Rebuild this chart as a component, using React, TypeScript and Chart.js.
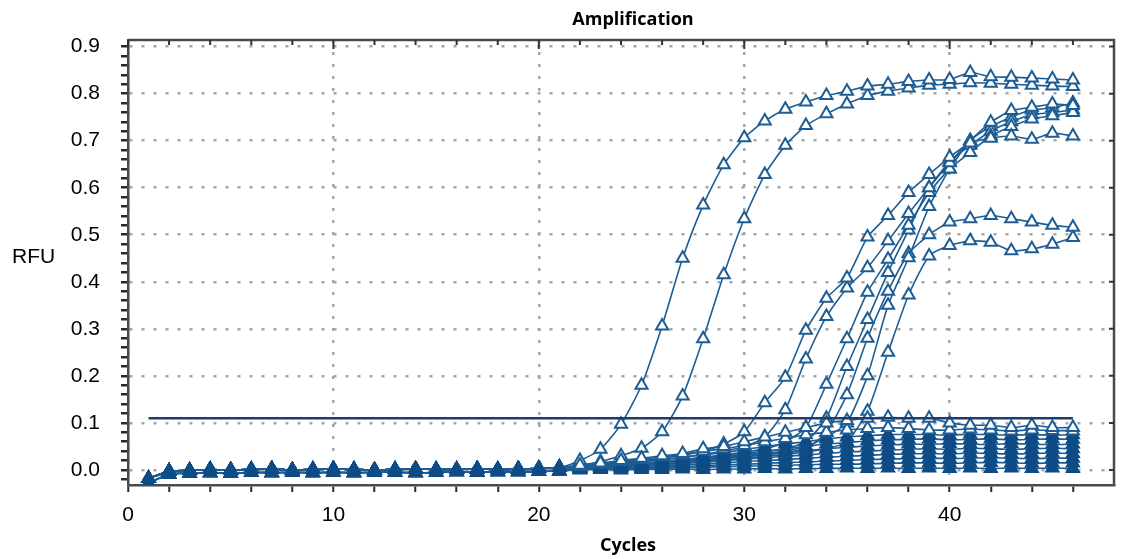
import React, { useEffect, useRef } from 'react';
import { Chart, registerables } from 'chart.js';

Chart.register(...registerables);

// ---- axis ticks ----
const xTickLabels = [0, 10, 20, 30, 40];
const xMinorTicks = [0, 2, 4, 6, 8, 10, 12, 14, 16, 18, 20, 22, 24, 26, 28, 30, 32, 34, 36, 38, 40, 42, 44, 46];
const yTickLabels = [0.0, 0.1, 0.2, 0.3, 0.4, 0.5, 0.6, 0.7, 0.8, 0.9];
const yMinorStep = 0.02;

// ---- cycles ----
const cycles = [1, 2, 3, 4, 5, 6, 7, 8, 9, 10, 11, 12, 13, 14, 15, 16, 17, 18, 19, 20, 21, 22, 23, 24, 25, 26, 27, 28, 29, 30, 31, 32, 33, 34, 35, 36, 37, 38, 39, 40, 41, 42, 43, 44, 45, 46];
const baselineCycles = 21;

// ---- threshold ----
const thresholdValue = 0.11;
const thresholdCycles = [1, 46];

// ---- baseline readings, cycles 1–21 ----
const baseA = [-0.018, -0.003, -0.001, 0.001, 0.0, 0.001, 0.002, 0.0, 0.001, 0.002, 0.001, 0.0, 0.001, 0.002, 0.001, 0.001, 0.002, 0.001, 0.002, 0.003, 0.005];
const baseB = [-0.028, -0.009, -0.007, -0.006, -0.007, -0.005, -0.006, -0.005, -0.006, -0.005, -0.006, -0.005, -0.005, -0.006, -0.005, -0.004, -0.005, -0.004, -0.004, -0.003, -0.002];

// ---- amplifying samples, cycles 22–46 ----
const sampleA = [0.02, 0.044, 0.097, 0.18, 0.306, 0.45, 0.563, 0.649, 0.706, 0.742, 0.767, 0.782, 0.796, 0.805, 0.816, 0.82, 0.826, 0.829, 0.83, 0.845, 0.836, 0.835, 0.833, 0.831, 0.829];
const sampleB = [0.01, 0.018, 0.03, 0.046, 0.081, 0.157, 0.279, 0.415, 0.534, 0.628, 0.69, 0.732, 0.757, 0.778, 0.796, 0.805, 0.812, 0.818, 0.82, 0.823, 0.822, 0.82, 0.818, 0.816, 0.815];
const sampleC = [0.008, 0.012, 0.016, 0.02, 0.025, 0.032, 0.04, 0.055, 0.081, 0.143, 0.197, 0.297, 0.365, 0.408, 0.495, 0.541, 0.59, 0.628, 0.665, 0.695, 0.705, 0.71, 0.703, 0.716, 0.71];
const sampleD = [0.006, 0.01, 0.014, 0.018, 0.022, 0.027, 0.033, 0.04, 0.05, 0.07, 0.128, 0.236, 0.326, 0.387, 0.43, 0.487, 0.545, 0.6, 0.653, 0.7, 0.739, 0.764, 0.771, 0.778, 0.775];
const sampleE = [0.005, 0.008, 0.011, 0.014, 0.018, 0.022, 0.027, 0.032, 0.038, 0.045, 0.06, 0.09, 0.182, 0.279, 0.378, 0.448, 0.52, 0.59, 0.64, 0.675, 0.71, 0.73, 0.746, 0.753, 0.76];
const sampleF = [0.005, 0.007, 0.01, 0.013, 0.016, 0.02, 0.024, 0.028, 0.033, 0.038, 0.045, 0.06, 0.11, 0.22, 0.32, 0.42, 0.51, 0.6, 0.655, 0.69, 0.72, 0.74, 0.755, 0.76, 0.765];
const sampleG = [0.004, 0.006, 0.009, 0.012, 0.015, 0.018, 0.022, 0.026, 0.03, 0.035, 0.04, 0.05, 0.07, 0.1, 0.2, 0.35, 0.451, 0.56, 0.64, 0.7, 0.73, 0.75, 0.765, 0.77, 0.78];
const sampleI = [0.004, 0.006, 0.008, 0.011, 0.014, 0.017, 0.02, 0.024, 0.028, 0.032, 0.037, 0.045, 0.08, 0.16, 0.28, 0.38, 0.46, 0.5, 0.527, 0.534, 0.541, 0.534, 0.527, 0.52, 0.516];
const sampleJ = [0.003, 0.005, 0.007, 0.009, 0.012, 0.015, 0.018, 0.021, 0.025, 0.029, 0.033, 0.038, 0.045, 0.06, 0.125, 0.25, 0.372, 0.455, 0.477, 0.487, 0.484, 0.466, 0.47, 0.48, 0.494];

// ---- non-amplifying samples, cycles 22–46 ----
const low1 = [0.01, 0.015, 0.02, 0.025, 0.03, 0.035, 0.045, 0.05, 0.06, 0.07, 0.08, 0.09, 0.1, 0.105, 0.11, 0.112, 0.11, 0.11, 0.1, 0.095, 0.095, 0.09, 0.095, 0.09, 0.09];
const low2 = [0.008, 0.012, 0.018, 0.022, 0.028, 0.032, 0.04, 0.045, 0.052, 0.06, 0.067, 0.075, 0.08, 0.085, 0.088, 0.09, 0.088, 0.085, 0.085, 0.087, 0.085, 0.083, 0.085, 0.084, 0.083];
const low3 = [0.006, 0.01, 0.014, 0.018, 0.022, 0.027, 0.032, 0.037, 0.043, 0.05, 0.055, 0.06, 0.066, 0.07, 0.073, 0.075, 0.076, 0.075, 0.074, 0.076, 0.075, 0.074, 0.075, 0.074, 0.075];
const low4 = [0.005, 0.008, 0.011, 0.015, 0.018, 0.022, 0.026, 0.03, 0.035, 0.04, 0.045, 0.05, 0.055, 0.058, 0.062, 0.064, 0.065, 0.066, 0.064, 0.065, 0.066, 0.064, 0.065, 0.066, 0.065];
const low5 = [0.004, 0.006, 0.009, 0.012, 0.015, 0.018, 0.021, 0.025, 0.029, 0.033, 0.037, 0.041, 0.045, 0.048, 0.051, 0.053, 0.055, 0.054, 0.056, 0.055, 0.054, 0.056, 0.055, 0.054, 0.055];
const low6 = [0.003, 0.005, 0.007, 0.009, 0.012, 0.014, 0.017, 0.02, 0.023, 0.026, 0.029, 0.032, 0.035, 0.038, 0.04, 0.042, 0.044, 0.045, 0.044, 0.046, 0.045, 0.044, 0.045, 0.046, 0.045];
const low7 = [0.002, 0.004, 0.005, 0.007, 0.009, 0.011, 0.013, 0.015, 0.018, 0.02, 0.022, 0.025, 0.027, 0.029, 0.031, 0.033, 0.034, 0.035, 0.034, 0.036, 0.035, 0.034, 0.035, 0.036, 0.035];
const low8 = [0.002, 0.003, 0.004, 0.005, 0.006, 0.008, 0.009, 0.011, 0.012, 0.014, 0.016, 0.017, 0.019, 0.02, 0.022, 0.023, 0.024, 0.025, 0.024, 0.025, 0.026, 0.025, 0.024, 0.025, 0.025];
const low9 = [0.001, 0.002, 0.002, 0.003, 0.004, 0.005, 0.006, 0.007, 0.008, 0.009, 0.01, 0.011, 0.012, 0.012, 0.013, 0.014, 0.015, 0.015, 0.014, 0.015, 0.016, 0.015, 0.014, 0.015, 0.015];
const low10 = [0.0, 0.001, 0.0, 0.001, 0.001, 0.002, 0.001, 0.002, 0.002, 0.003, 0.002, 0.003, 0.003, 0.004, 0.003, 0.004, 0.003, 0.004, 0.003, 0.004, 0.003, 0.004, 0.003, 0.004, 0.003];

const BLUE = '#1d5d94';
const DARK = '#0f4c86';
const NAVY = '#1e3a72';

const isMajorX = (v: number) => xTickLabels.some((t) => Math.abs(t - v) < 1e-6);
const isMajorY = (v: number) => yTickLabels.some((t) => Math.abs(t - v) < 1e-6);

function series(base: number[], tail: number[]) {
  const vals = [...base, ...tail];
  return cycles.map((c, i) => ({ x: c, y: vals[i] }));
}

function curve(base: number[], tail: number[], filled: boolean) {
  return {
    data: series(base, tail),
    borderColor: BLUE,
    borderWidth: 1.6,
    pointStyle: 'triangle',
    pointRadius: 7,
    pointBorderWidth: 2,
    pointBorderColor: (c: any) => (filled || c.dataIndex < baselineCycles ? DARK : BLUE),
    pointBackgroundColor: (c: any) => (filled || c.dataIndex < baselineCycles ? DARK : '#ffffff'),
    tension: 0.2,
    fill: false,
  };
}

const framePlugin = {
  id: 'frameAndText',
  afterDraw(chart: any) {
    const { ctx, chartArea } = chart;
    const { left, right, top, bottom } = chartArea;
    const xs = chart.scales.x;
    const ys = chart.scales.y;
    ctx.save();
    ctx.strokeStyle = '#4a4a4a';
    ctx.lineWidth = 2.5;
    ctx.beginPath();
    ctx.moveTo(left, top);
    ctx.lineTo(right, top);
    ctx.lineTo(right, bottom);
    ctx.stroke();
    ctx.lineWidth = 2;
    ctx.strokeStyle = '#333';
    ctx.beginPath();
    xMinorTicks.forEach((v) => {
      const px = xs.getPixelForValue(v);
      ctx.moveTo(px, top);
      ctx.lineTo(px, top + (isMajorX(v) ? 9 : 5));
    });
    yTickLabels.forEach((v) => {
      const py = ys.getPixelForValue(v);
      ctx.moveTo(right, py);
      ctx.lineTo(right - 5, py);
    });
    ctx.stroke();
    ctx.fillStyle = '#000';
    ctx.textAlign = 'center';
    ctx.textBaseline = 'middle';
    ctx.font = 'bold 18px "Open Sans"';
    ctx.fillText('Amplification', 633, 20);
    ctx.fillText('Cycles', 628, 546);
    ctx.textAlign = 'left';
    ctx.font = '21px "Liberation Sans"';
    ctx.fillText('RFU', 12, 257);
    ctx.restore();
  },
};

export default function App() {
  const ref = useRef<HTMLCanvasElement>(null);

  useEffect(() => {
    if (!ref.current) return;
    const datasets: any[] = [
      {
        data: thresholdCycles.map((c) => ({ x: c, y: thresholdValue })),
        borderColor: NAVY,
        borderWidth: 2.5,
        pointRadius: 0,
        fill: false,
      },
      curve(baseA, low1, false),
      curve(baseB, low2, false),
      curve(baseA, low3, true),
      curve(baseB, low4, true),
      curve(baseA, low5, true),
      curve(baseB, low6, true),
      curve(baseA, low7, true),
      curve(baseB, low8, true),
      curve(baseA, low9, true),
      curve(baseB, low10, true),
      curve(baseA, sampleA, false),
      curve(baseA, sampleB, false),
      curve(baseA, sampleC, false),
      curve(baseA, sampleD, false),
      curve(baseA, sampleE, false),
      curve(baseA, sampleF, false),
      curve(baseA, sampleG, false),
      curve(baseA, sampleI, false),
      curve(baseA, sampleJ, false),
    ];

    const chart = new Chart(ref.current, {
      type: 'line',
      data: { datasets },
      plugins: [framePlugin],
      options: {
        animation: false,
        responsive: false,
        devicePixelRatio: 1,
        layout: { padding: { top: 40, right: 3, left: 0, bottom: 0 } },
        plugins: {
          legend: { display: false },
          tooltip: { enabled: false },
          title: { display: false },
        },
        scales: {
          x: {
            type: 'linear',
            min: 0,
            max: 48,
            afterFit: (s: any) => {
              s.height = 74;
            },
            afterBuildTicks: (s: any) => {
              s.ticks = xMinorTicks.map((v) => ({ value: v }));
            },
            ticks: {
              autoSkip: false,
              maxRotation: 0,
              padding: 11,
              color: '#000',
              font: { family: 'Liberation Sans', size: 21 },
              callback: (v: any) => (isMajorX(Number(v)) ? String(v) : ''),
            },
            grid: {
              color: (c: any) => (c.tick && isMajorX(c.tick.value) ? '#a5a5a5' : 'rgba(0,0,0,0)'),
              lineWidth: 2.5,
              tickColor: '#2a2a2a',
              tickWidth: 2,
              tickLength: 7,
            },
            border: { display: true, color: '#4a4a4a', width: 2.5, dash: [3, 9] },
          },
          y: {
            type: 'linear',
            min: -0.032,
            max: 0.914,
            afterFit: (s: any) => {
              s.width = 128;
            },
            afterBuildTicks: (s: any) => {
              const t: any[] = [];
              for (let k = -1; k <= 45; k++) t.push({ value: Math.round(k * yMinorStep * 1000) / 1000 });
              s.ticks = t;
            },
            ticks: {
              autoSkip: false,
              padding: 21,
              color: '#000',
              font: { family: 'Liberation Sans', size: 21 },
              callback: (v: any) => (isMajorY(Number(v)) ? Number(v).toFixed(1) : ''),
            },
            grid: {
              color: (c: any) => (c.tick && isMajorY(c.tick.value) ? '#a5a5a5' : 'rgba(0,0,0,0)'),
              lineWidth: 2.5,
              tickColor: '#2a2a2a',
              tickWidth: 2.5,
              tickLength: 7,
            },
            border: { display: true, color: '#4a4a4a', width: 2.5, dash: [3, 9] },
          },
        },
      } as any,
    });
    return () => chart.destroy();
  }, []);

  return (
    <div style={{ position: 'fixed', left: 0, top: 0, width: 1123, height: 559, background: '#fff' }}>
      <canvas ref={ref} width={1123} height={559} style={{ width: 1123, height: 559, display: 'block' }} />
    </div>
  );
}
